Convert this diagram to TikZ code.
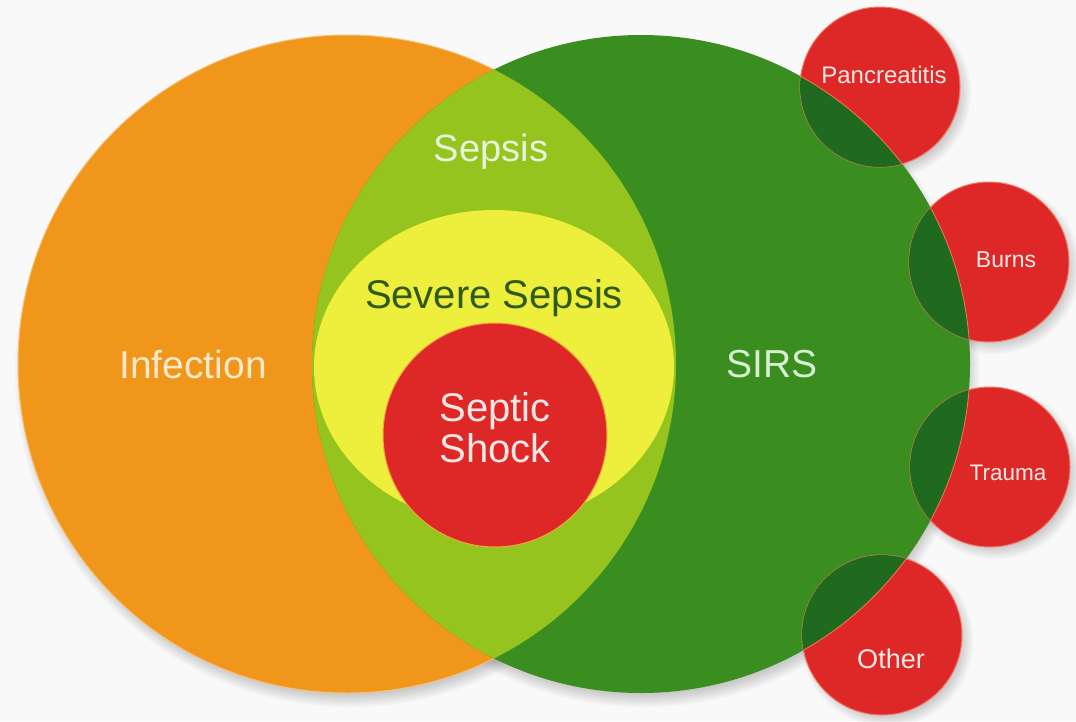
\documentclass[tikz,border=0pt]{standalone}
\usepackage{fontspec}
\setmainfont{Liberation Sans}
\usetikzlibrary{calc}
\definecolor{bgC}{HTML}{F9F9F9}
\definecolor{orangeC}{HTML}{F0961A}
\definecolor{sirsC}{HTML}{3A8E1F}
\definecolor{sepsisC}{HTML}{96C41F}
\definecolor{yellowC}{HTML}{EEEE3C}
\definecolor{redC}{HTML}{DE2828}
\definecolor{darkC}{HTML}{1F6A1E}
\definecolor{redEdge}{HTML}{F27A66}
\definecolor{shockEdge}{HTML}{EFA83A}
\definecolor{infT}{HTML}{FBE9C9}
\definecolor{sirsT}{HTML}{D9EFD2}
\definecolor{sepsisT}{HTML}{EAF3DC}
\definecolor{severeT}{HTML}{2E5A12}
\definecolor{whiteT}{HTML}{F8E8E4}
\newcommand\softshadow[2]{%
  \foreach \k in {0,...,6}{\fill[black,opacity=0.028] #1 circle[radius={(#2+6-2*\k)*1pt}];}}
\tikzset{
  lab/.style={inner sep=0pt, anchor=base},
  big/.style={font=\fontsize{39}{41}\selectfont},
  small/.style={font=\fontsize{23}{23}\selectfont, text=whiteT},
  smallcirc/.style={fill=redC, draw=redEdge, line width=1pt},
}
\begin{document}
\begin{tikzpicture}[x=1pt,y=-1pt]
\fill[bgC] (0,0) rectangle (1076,721);
\useasboundingbox (0,0) rectangle (1076,721);
% centres
\coordinate (inf) at (347,364);
\coordinate (sirs) at (641,364);
\coordinate (severe) at (494,367);
\coordinate (shock) at (495,435);
\coordinate (panc) at (880,87);
\coordinate (burns) at (989,262);
\coordinate (trauma) at (990,467);
\coordinate (other) at (882,635);
% shadows
\softshadow{($(inf)+(3,8)$)}{329}
\softshadow{($(sirs)+(3,8)$)}{329}
\foreach \c in {panc,burns,trauma,other}{\softshadow{($(\c)+(5,6)$)}{80}}
% big circles
\fill[orangeC] (inf) circle[radius=329pt];
\draw[orangeC!60!white, line width=1pt] (inf) circle[radius=329pt];
\fill[sirsC] (sirs) circle[radius=329pt];
\begin{scope}
  \clip (inf) circle[radius=329pt];
  \fill[sepsisC] (sirs) circle[radius=329pt];
  \clip (sirs) circle[radius=329pt];
  \fill[yellowC] (severe) ellipse[x radius=180pt, y radius=157pt];
\end{scope}
\fill[redC, draw=shockEdge, line width=1pt] (shock) circle[radius=112pt];
% small circles
\foreach \c in {panc,burns,trauma,other}{
  \fill[smallcirc] (\c) circle[radius=80pt];
  \begin{scope}
    \clip (sirs) circle[radius=329pt];
    \fill[darkC] (\c) circle[radius=80pt];
  \end{scope}
  \begin{scope}
    \clip (\c) circle[radius=80pt];
    \draw[redEdge!80!orange, line width=0.8pt] (sirs) circle[radius=329pt];
  \end{scope}
}
% labels
\node[lab, big, text=infT] (tinf) at (193,378) {Infection};
\node[lab, big, text=sirsT] (tsirs) at (772,377) {SIRS};
\node[lab, font=\fontsize{38}{38}\selectfont, text=sepsisT] (tsepsis) at (491,161) {Sepsis};
\node[lab, font=\fontsize{40}{40}\selectfont, text=severeT] (tsevere) at (494,308) {Severe Sepsis};
\node[inner sep=0pt, align=center, font=\fontsize{40}{41}\selectfont, text=whiteT] (tshock) at (495,428) {Septic\\Shock};
\node[lab, small, font=\fontsize{24}{24}\selectfont] (tpanc) at (884,83) {Pancreatitis};
\node[lab, small] (tburns) at (1006,267) {Burns};
\node[lab, small, font=\fontsize{22.5}{22.5}\selectfont] (ttrauma) at (1008,480) {Trauma};
\node[lab, small, font=\fontsize{27}{27}\selectfont] (tother) at (891,668) {Other};
\end{tikzpicture}
\end{document}
